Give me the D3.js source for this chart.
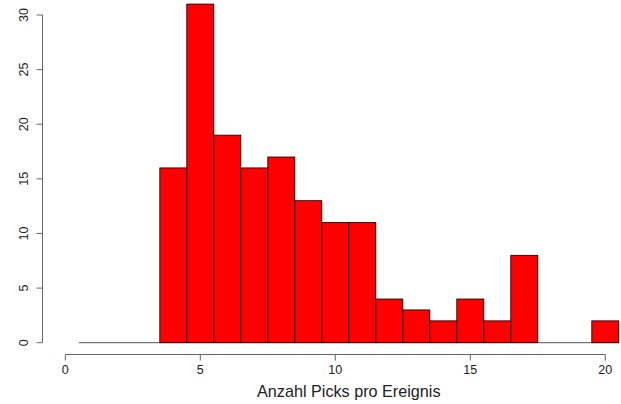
<!DOCTYPE html>
<html>
<head>
<meta charset="utf-8">
<script src="https://cdn.jsdelivr.net/npm/d3@7"></script>
<style>
  body { margin: 0; background: #fff; }
  text { font-family: "Liberation Sans", Arial, sans-serif; }
</style>
</head>
<body>
<div id="chart"></div>
<script>
// histogram bins (centre value) and counts
const bins = [1, 2, 3, 4, 5, 6, 7, 8, 9, 10, 11, 12, 13, 14, 15, 16, 17, 18, 19, 20];
const counts = [0, 0, 0, 16, 31, 19, 16, 17, 13, 11, 11, 4, 3, 2, 4, 2, 8, 0, 0, 2];
const xTicks = [0, 5, 10, 15, 20];
const yTicks = [0, 5, 10, 15, 20, 25, 30];
const xLabel = "Anzahl Picks pro Ereignis";

const width = 621, height = 404;

const svg = d3.select("#chart").append("svg")
  .attr("width", width)
  .attr("height", height);

// scales fitted to the R plot region
const x = d3.scaleLinear().domain([0, 20]).range([65.3, 605.3]);
const y = d3.scaleLinear().domain([0, 30]).range([342.7, 15.0]);

// empty bins show as flat line
svg.append("line")
  .attr("x1", x(0.5)).attr("x2", x(20.5))
  .attr("y1", y(0)).attr("y2", y(0))
  .attr("stroke", "#555")
  .attr("stroke-width", 1);

// bars
svg.selectAll("rect.bar")
  .data(bins)
  .enter().append("rect")
  .attr("class", "bar")
  .attr("x", d => x(d - 0.5))
  .attr("y", (d, i) => y(counts[i]))
  .attr("width", d => x(d + 0.5) - x(d - 0.5))
  .attr("height", (d, i) => y(0) - y(counts[i]))
  .attr("fill", "#ff0000")
  .attr("stroke", "#000")
  .attr("stroke-width", 0.8);

// y axis
const yAxis = svg.append("g").attr("transform", "translate(42.5,0)");
yAxis.append("line")
  .attr("x1", 0).attr("x2", 0)
  .attr("y1", y(0)).attr("y2", y(30))
  .attr("stroke", "#666");
yAxis.selectAll("line.tick")
  .data(yTicks)
  .enter().append("line")
  .attr("class", "tick")
  .attr("x1", 0).attr("x2", -6)
  .attr("y1", d => y(d)).attr("y2", d => y(d))
  .attr("stroke", "#666");
yAxis.selectAll("text")
  .data(yTicks)
  .enter().append("text")
  .attr("transform", d => `translate(-15,${y(d)}) rotate(-90)`)
  .attr("text-anchor", "middle")
  .attr("font-size", 12.5)
  .attr("fill", "#222")
  .text(d => d);

// x axis
const xAxis = svg.append("g").attr("transform", "translate(0,354.5)");
xAxis.append("line")
  .attr("x1", x(0)).attr("x2", x(20))
  .attr("y1", 0).attr("y2", 0)
  .attr("stroke", "#666");
xAxis.selectAll("line.tick")
  .data(xTicks)
  .enter().append("line")
  .attr("class", "tick")
  .attr("x1", d => x(d)).attr("x2", d => x(d))
  .attr("y1", 0).attr("y2", 6)
  .attr("stroke", "#666");
xAxis.selectAll("text")
  .data(xTicks)
  .enter().append("text")
  .attr("x", d => x(d))
  .attr("y", 19)
  .attr("text-anchor", "middle")
  .attr("font-size", 12.5)
  .attr("fill", "#222")
  .text(d => d);

// axis title sits centred on the full plot region
svg.append("text")
  .attr("x", x(10.5))
  .attr("y", 397)
  .attr("text-anchor", "middle")
  .attr("font-size", 16.2)
  .attr("fill", "#222")
  .text(xLabel);
</script>
</body>
</html>
